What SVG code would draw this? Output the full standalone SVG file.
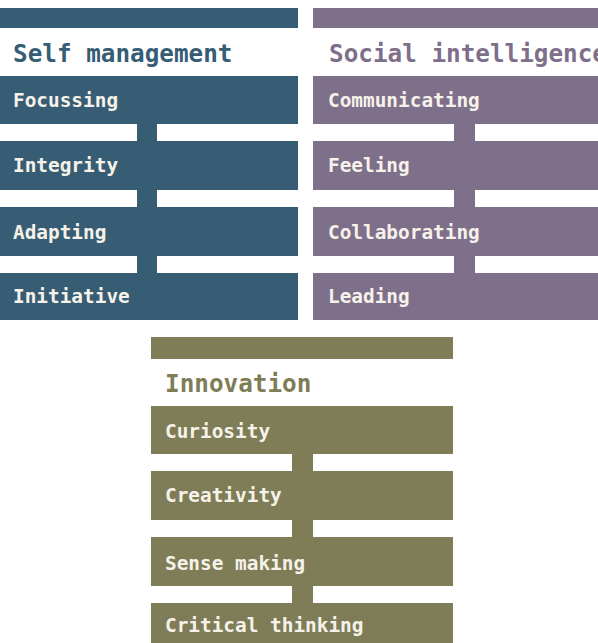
<svg xmlns="http://www.w3.org/2000/svg" width="598" height="643" viewBox="0 0 598 643">
  <style>
    .title { font-family: "DejaVu Sans Mono", "Liberation Mono", monospace; font-weight: bold; font-size: 24.3px; }
    .label { font-family: "DejaVu Sans Mono", "Liberation Mono", monospace; font-weight: bold; font-size: 19.4px; fill: #f6f2ea; }
    .blue { fill: #365d74; }
    .purple { fill: #7e6f8b; }
    .olive { fill: #7e7d57; }
  </style>
  <rect width="598" height="643" fill="#ffffff"/>

  <!-- vertical links between stacked boxes -->
  <g id="connectors">
    <rect class="blue" x="137" y="123" width="20" height="19"/>
    <rect class="blue" x="137" y="189" width="20" height="19"/>
    <rect class="blue" x="137" y="255" width="20" height="19"/>
    <rect class="purple" x="454" y="123" width="21" height="19"/>
    <rect class="purple" x="454" y="189" width="21" height="19"/>
    <rect class="purple" x="454" y="255" width="21" height="19"/>
    <rect class="olive" x="292" y="453" width="21" height="19"/>
    <rect class="olive" x="292" y="519" width="21" height="19"/>
    <rect class="olive" x="292" y="585" width="21" height="19"/>
  </g>

  <!-- Self management column -->
  <g id="self-management">
    <rect class="blue" x="0" y="8" width="298" height="20"/>
    <text class="title blue" x="13" y="62">Self management</text>
  </g>
  <g id="focussing">
    <rect class="blue" x="0" y="76" width="298" height="48"/>
    <text class="label" x="13" y="107">Focussing</text>
  </g>
  <g id="integrity">
    <rect class="blue" x="0" y="141" width="298" height="49"/>
    <text class="label" x="13" y="172">Integrity</text>
  </g>
  <g id="adapting">
    <rect class="blue" x="0" y="207" width="298" height="49"/>
    <text class="label" x="13" y="239">Adapting</text>
  </g>
  <g id="initiative">
    <rect class="blue" x="0" y="273" width="298" height="47"/>
    <text class="label" x="13" y="303">Initiative</text>
  </g>

  <!-- Social intelligence column -->
  <g id="social-intelligence">
    <rect class="purple" x="313" y="8" width="285" height="20"/>
    <text class="title purple" x="329" y="62">Social intelligence</text>
  </g>
  <g id="communicating">
    <rect class="purple" x="313" y="76" width="285" height="48"/>
    <text class="label" x="328" y="107">Communicating</text>
  </g>
  <g id="feeling">
    <rect class="purple" x="313" y="141" width="285" height="49"/>
    <text class="label" x="328" y="172">Feeling</text>
  </g>
  <g id="collaborating">
    <rect class="purple" x="313" y="207" width="285" height="49"/>
    <text class="label" x="328" y="239">Collaborating</text>
  </g>
  <g id="leading">
    <rect class="purple" x="313" y="273" width="285" height="47"/>
    <text class="label" x="328" y="303">Leading</text>
  </g>

  <!-- Innovation column -->
  <g id="innovation">
    <rect class="olive" x="151" y="337" width="302" height="22"/>
    <text class="title olive" x="165" y="392">Innovation</text>
  </g>
  <g id="curiosity">
    <rect class="olive" x="151" y="406" width="302" height="48"/>
    <text class="label" x="165" y="438">Curiosity</text>
  </g>
  <g id="creativity">
    <rect class="olive" x="151" y="471" width="302" height="49"/>
    <text class="label" x="165" y="502">Creativity</text>
  </g>
  <g id="sense-making">
    <rect class="olive" x="151" y="537" width="302" height="49"/>
    <text class="label" x="165" y="570">Sense making</text>
  </g>
  <g id="critical-thinking">
    <rect class="olive" x="151" y="603" width="302" height="40"/>
    <text class="label" x="165" y="632">Critical thinking</text>
  </g>
</svg>
